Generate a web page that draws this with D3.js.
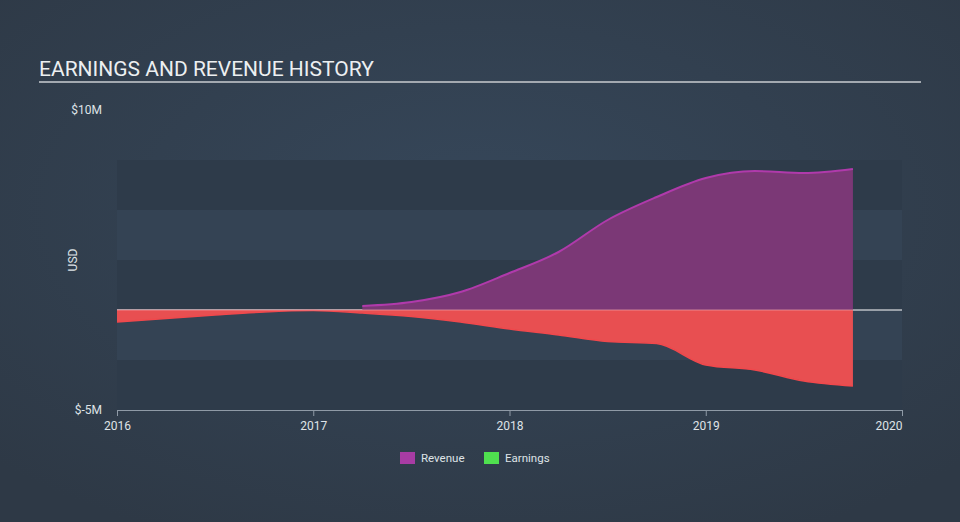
<!DOCTYPE html>
<html><head><meta charset="utf-8">
<script src="https://cdn.jsdelivr.net/npm/d3@7"></script>
<style>html,body{margin:0;padding:0;background:#323f4e;}svg{display:block;}</style>
</head><body>
<svg id="c" width="960" height="522"></svg>
<script>
const revenueDates = [2017.25,2017.5,2017.75,2018.0,2018.25,2018.5,2018.75,2019.0,2019.25,2019.5,2019.75];
const revenueValues = [0.2,0.4,0.9,1.85,2.9,4.5,5.65,6.6,6.95,6.85,7.05];
const earningsDates = [2016.0,2016.25,2016.5,2016.75,2017.0,2017.25,2017.5,2017.75,2018.0,2018.25,2018.5,2018.75,2019.0,2019.25,2019.5,2019.75];
const earningsValues = [-0.6,-0.42,-0.25,-0.1,-0.03,-0.15,-0.32,-0.6,-0.95,-1.25,-1.58,-1.68,-2.75,-3.0,-3.55,-3.8];
const xTicks = [2016,2017,2018,2019,2020];
const yTickLabels = ["$10M","$-5M"];
const yTickValues = [10,-5];
const bandEdges = [7.5,5,2.5,0,-2.5,-5];
const legendItems = ["Revenue","Earnings"];

const svg = d3.select("#c");
const defs = svg.append("defs");
const g = defs.append("radialGradient").attr("id","bg").attr("cx","50%").attr("cy","40%").attr("r","70%");
g.append("stop").attr("offset","0%").attr("stop-color","#36475a");
g.append("stop").attr("offset","100%").attr("stop-color","#2e3946");
svg.append("rect").attr("width",960).attr("height",522).attr("fill","url(#bg)");

const x = d3.scaleLinear().domain([2016,2020]).range([117,902]);
const y = d3.scaleLinear().domain([-5,10]).range([410,110]);

// bands
for (let i=0;i<bandEdges.length-1;i++){
  svg.append("rect").attr("x",x(2016)).attr("width",x(2020)-x(2016))
    .attr("y",y(bandEdges[i])).attr("height",y(bandEdges[i+1])-y(bandEdges[i]))
    .attr("fill", i%2===0 ? "#2e3b4a" : "#344354");
}

// title
svg.append("text").attr("x",39).attr("y",76).text("EARNINGS AND REVENUE HISTORY")
  .attr("font-family","Roboto, sans-serif").attr("font-size",21).attr("fill","#eceff1");
svg.append("line").attr("x1",39).attr("x2",921).attr("y1",82).attr("y2",82)
  .attr("stroke","#a3a9b0").attr("stroke-width",2);

// y labels
yTickValues.forEach((v,i)=>{
  svg.append("text").attr("x",102).attr("y",y(v)).attr("dy","0.35em").attr("text-anchor","end")
    .text(yTickLabels[i]).attr("font-family","Roboto, sans-serif").attr("font-size",12).attr("fill","#dfe3e7");
});
svg.append("text").attr("transform","translate(77,260) rotate(-90)").attr("text-anchor","middle")
  .text("USD").attr("font-family","Roboto, sans-serif").attr("font-size",12).attr("fill","#dfe3e7");

// zero line
svg.append("line").attr("x1",x(2016)).attr("x2",x(2020)).attr("y1",y(0)).attr("y2",y(0))
  .attr("stroke","#ffffff").attr("stroke-width",1);

// areas
const rev = revenueDates.map((d,i)=>({d, v:revenueValues[i]}));
const earn = earningsDates.map((d,i)=>({d, v:earningsValues[i]}));
const area = d3.area().x(p=>x(p.d)).y0(y(0)).y1(p=>y(p.v)).curve(d3.curveMonotoneX);
const line = d3.line().x(p=>x(p.d)).y(p=>y(p.v)).curve(d3.curveMonotoneX);
svg.append("path").datum(rev).attr("d",area).attr("fill","#7b3876");
svg.append("path").datum(rev).attr("d",line).attr("fill","none").attr("stroke","#b03aab").attr("stroke-width",2);
svg.append("path").datum(earn).attr("d",area).attr("fill","#e84f51");
svg.append("path").datum(earn).attr("d",line).attr("fill","none").attr("stroke","#f0484c").attr("stroke-width",1.5);
svg.append("line").attr("x1",x(2016)).attr("x2",x(2019.75)).attr("y1",y(0)).attr("y2",y(0))
  .attr("stroke","#f0a0a8").attr("stroke-width",1).attr("opacity",0.7);

// x axis
const ax = svg.append("g").attr("transform",`translate(0,${y(-5)})`)
  .call(d3.axisBottom(x).tickValues(xTicks).tickFormat(d3.format("d")).tickSize(6).tickPadding(5));
ax.select(".domain").attr("stroke","#8f9aa6");
ax.selectAll(".tick line").attr("stroke","#8f9aa6");
ax.selectAll(".tick text").attr("font-family","Roboto, sans-serif").attr("font-size",12).attr("fill","#dfe3e7");
ax.selectAll(".tick text").filter(d=>d===2020).attr("text-anchor","end");

// legend
const legColors = ["#a83ca4","#4fe04f"];
const legX = [400,484];
legendItems.forEach((t,i)=>{
  svg.append("rect").attr("x",legX[i]).attr("y",452).attr("width",15).attr("height",12).attr("fill",legColors[i]);
  svg.append("text").attr("x",legX[i]+21).attr("y",458).attr("dy","0.35em").text(t)
    .attr("font-family","Roboto, sans-serif").attr("font-size",11.5).attr("fill","#dfe3e7");
});
</script>
</body></html>
